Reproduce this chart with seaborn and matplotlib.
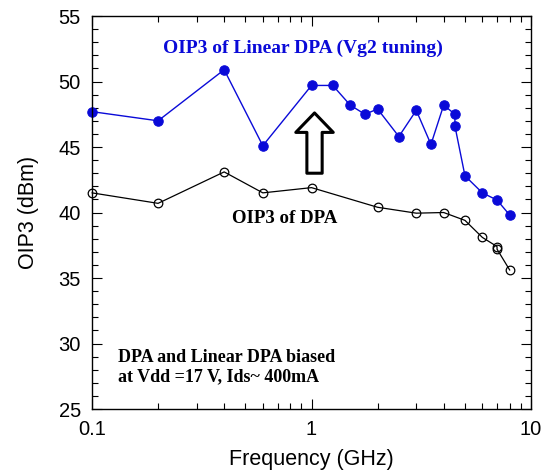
import matplotlib
matplotlib.use("Agg")
import matplotlib.pyplot as plt
import seaborn as sns
import pandas as pd
from matplotlib.ticker import MultipleLocator, LogLocator, NullFormatter, FixedLocator, FixedFormatter

# Data
freq_lin = [0.1, 0.2, 0.4, 0.6, 1.0, 1.25, 1.5, 1.75, 2.0, 2.5, 3.0, 3.5, 4.0, 4.5, 4.5, 5.0, 6.0, 7.0, 8.0]
oip3_lin = [47.7, 47.0, 50.9, 45.1, 49.7, 49.7, 48.2, 47.5, 47.9, 45.8, 47.8, 45.2, 48.2, 47.5, 46.6, 42.8, 41.5, 40.95, 39.8]

freq_dpa = [0.1, 0.2, 0.4, 0.6, 1.0, 2.0, 3.0, 4.0, 5.0, 6.0, 7.0, 7.0, 8.0]
oip3_dpa = [41.5, 40.7, 43.1, 41.5, 41.9, 40.4, 39.95, 40.0, 39.4, 38.1, 37.4, 37.2, 35.6]

df_lin = pd.DataFrame({"freq": freq_lin, "oip3": oip3_lin})
df_dpa = pd.DataFrame({"freq": freq_dpa, "oip3": oip3_dpa})

sns.set_style("ticks")
plt.rcParams['font.family'] = ['Liberation Sans', 'DejaVu Sans']
plt.rcParams['text.color'] = 'black'
plt.rcParams['axes.labelcolor'] = 'black'

fig = plt.figure(figsize=(5.43, 4.71), dpi=100)
ax = fig.add_axes([0.1694, 0.1316, 0.8086, 0.8344])

blue = '#0a0ad8'
sns.lineplot(data=df_lin, x="freq", y="oip3", estimator=None, sort=False, ax=ax,
             color=blue, lw=1.0, marker='o', markersize=6.8, markeredgecolor=blue,
             markerfacecolor=blue, clip_on=False)
sns.lineplot(data=df_dpa, x="freq", y="oip3", estimator=None, sort=False, ax=ax,
             color='black', lw=0.9, marker='o', markersize=6.2, markeredgecolor='black',
             markerfacecolor='none', markeredgewidth=0.9, clip_on=False)

ax.set_xscale('log')
ax.set_xlim(0.1, 10)
ax.set_ylim(25, 55)
ax.xaxis.set_major_locator(FixedLocator([0.1, 1, 10]))
ax.xaxis.set_major_formatter(FixedFormatter(['0.1', '1', '10']))
ax.xaxis.set_minor_locator(LogLocator(base=10, subs=range(2, 10)))
ax.xaxis.set_minor_formatter(NullFormatter())
ax.yaxis.set_major_locator(MultipleLocator(5))
ax.yaxis.set_minor_locator(MultipleLocator(1))

ax.tick_params(which='both', direction='in', top=True, right=True, width=0.8, colors='black')
ax.tick_params(which='major', length=7, labelsize=14.5)
ax.tick_params(axis='x', which='major', pad=8)
ax.tick_params(axis='y', which='major', pad=8)
ax.tick_params(which='minor', length=4)
for s in ax.spines.values():
    s.set_linewidth(1.0)
    s.set_color('black')

ax.set_xlabel("Frequency (GHz)", fontsize=15.5, labelpad=7)
ax.set_ylabel("OIP3 (dBm)", fontsize=15.5, labelpad=14)

serif = ['Liberation Serif', 'DejaVu Serif']
ax.text(0.481, 0.919, "OIP3 of Linear DPA (Vg2 tuning)", transform=ax.transAxes,
        ha='center', va='center', color=blue, fontsize=14, fontweight='bold', family=serif)
ax.text(0.438, 0.486, "OIP3 of DPA", transform=ax.transAxes,
        ha='center', va='center', color='black', fontsize=13.6, fontweight='bold', family=serif)
ax.text(0.059, 0.106, "DPA and Linear DPA biased\nat Vdd =17 V, Ids~ 400mA", transform=ax.transAxes,
        ha='left', va='center', color='black', fontsize=13, fontweight='bold', family=serif,
        linespacing=1.15)

# hollow block arrow
ax.annotate('', xy=(1.032, 47.6), xytext=(1.032, 43.0),
            arrowprops=dict(arrowstyle='simple,head_width=2.7,head_length=1.4,tail_width=1.1',
                            mutation_scale=10, fc='white', ec='black', lw=2.2,
                            shrinkA=0, shrinkB=0))

fig.savefig("out.png", dpi=100)
